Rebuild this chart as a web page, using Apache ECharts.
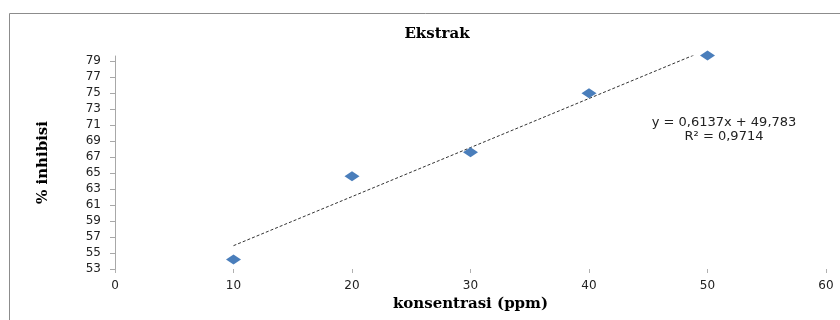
<!DOCTYPE html>
<html>
<head>
<meta charset="utf-8">
<script src="https://cdn.jsdelivr.net/npm/echarts@6/dist/echarts.min.js"></script>
<style>
html,body{margin:0;padding:0;background:#fff;}
#chart{width:840px;height:320px;}
</style>
</head>
<body>
<div id="chart"></div>
<script>
// Data
var concentrations = [10, 20, 30, 40, 50];
var inhibition = [54.2, 64.6, 67.6, 75.0, 79.7];
// Linear trendline endpoints (y = 0,6137x + 49,783 at x = 10 and x = 50)
var trendX = [10, 50];
var trendY = [55.92, 80.47];
var yTicks = [53, 55, 57, 59, 61, 63, 65, 67, 69, 71, 73, 75, 77, 79];
var xTicks = [0, 10, 20, 30, 40, 50, 60];
var titleText = 'Ekstrak';
var xName = 'konsentrasi (ppm)';
var yName = '% inhibisi';
var equationLines = ['y = 0,6137x + 49,783', 'R² = 0,9714'];

var chart = echarts.init(document.getElementById('chart'), null, {renderer: 'canvas'});
var serif = '"DejaVu Serif", serif';
var sans = '"DejaVu Sans", sans-serif';

var option = {
  animation: false,
  backgroundColor: '#ffffff',
  title: {
    text: titleText,
    left: 432,
    textAlign: 'center',
    top: 22,
    textStyle: {fontFamily: serif, fontWeight: 'bold', fontSize: 15, color: '#000'}
  },
  grid: {left: 115, right: 14, top: 56, bottom: 51, containLabel: false},
  xAxis: {
    type: 'value',
    min: 0, max: 60, interval: 10,
    name: xName,
    nameLocation: 'middle',
    nameGap: 28,
    nameTextStyle: {fontFamily: serif, fontWeight: 'bold', fontSize: 15, color: '#000'},
    axisLine: {show: false},
    axisTick: {show: true, length: 4, lineStyle: {color: '#b0b0b0'}, customValues: xTicks},
    axisLabel: {fontFamily: sans, fontSize: 12, color: '#222', margin: 11, customValues: xTicks},
    splitLine: {show: false}
  },
  yAxis: {
    type: 'value',
    min: 53, max: 79.65, interval: 2,
    name: yName,
    nameLocation: 'middle',
    nameGap: 64,
    nameTextStyle: {fontFamily: serif, fontWeight: 'bold', fontSize: 15, color: '#000'},
    axisLine: {show: true, onZero: false, lineStyle: {color: '#a8a8a8', width: 1}},
    axisTick: {show: true, length: 5, lineStyle: {color: '#a8a8a8'}, customValues: yTicks},
    axisLabel: {fontFamily: sans, fontSize: 12, color: '#222', margin: 14, customValues: yTicks},
    splitLine: {show: false}
  },
  series: [
    {
      type: 'line',
      data: trendX.map(function (x, i) { return [x, trendY[i]]; }),
      symbol: 'none',
      clip: true,
      lineStyle: {color: '#333', width: 1, type: [3, 2]},
      z: 2
    },
    {
      type: 'scatter',
      data: concentrations.map(function (x, i) { return [x, inhibition[i]]; }),
      symbol: 'diamond',
      symbolSize: [15, 10],
      clip: false,
      itemStyle: {color: '#4a7ebb', opacity: 1},
      z: 3
    }
  ],
  graphic: [
    {
      type: 'rect',
      shape: {x: 9.5, y: 13.5, width: 900, height: 400},
      style: {fill: 'none', stroke: '#8c8c8c', lineWidth: 1},
      silent: true
    },
    {
      type: 'text',
      x: 724,
      y: 116,
      style: {
        text: equationLines.join('\n'),
        font: '13px ' + sans,
        fill: '#222',
        align: 'center',
        verticalAlign: 'top',
        lineHeight: 14
      }
    }
  ]
};
chart.setOption(option);
</script>
</body>
</html>
